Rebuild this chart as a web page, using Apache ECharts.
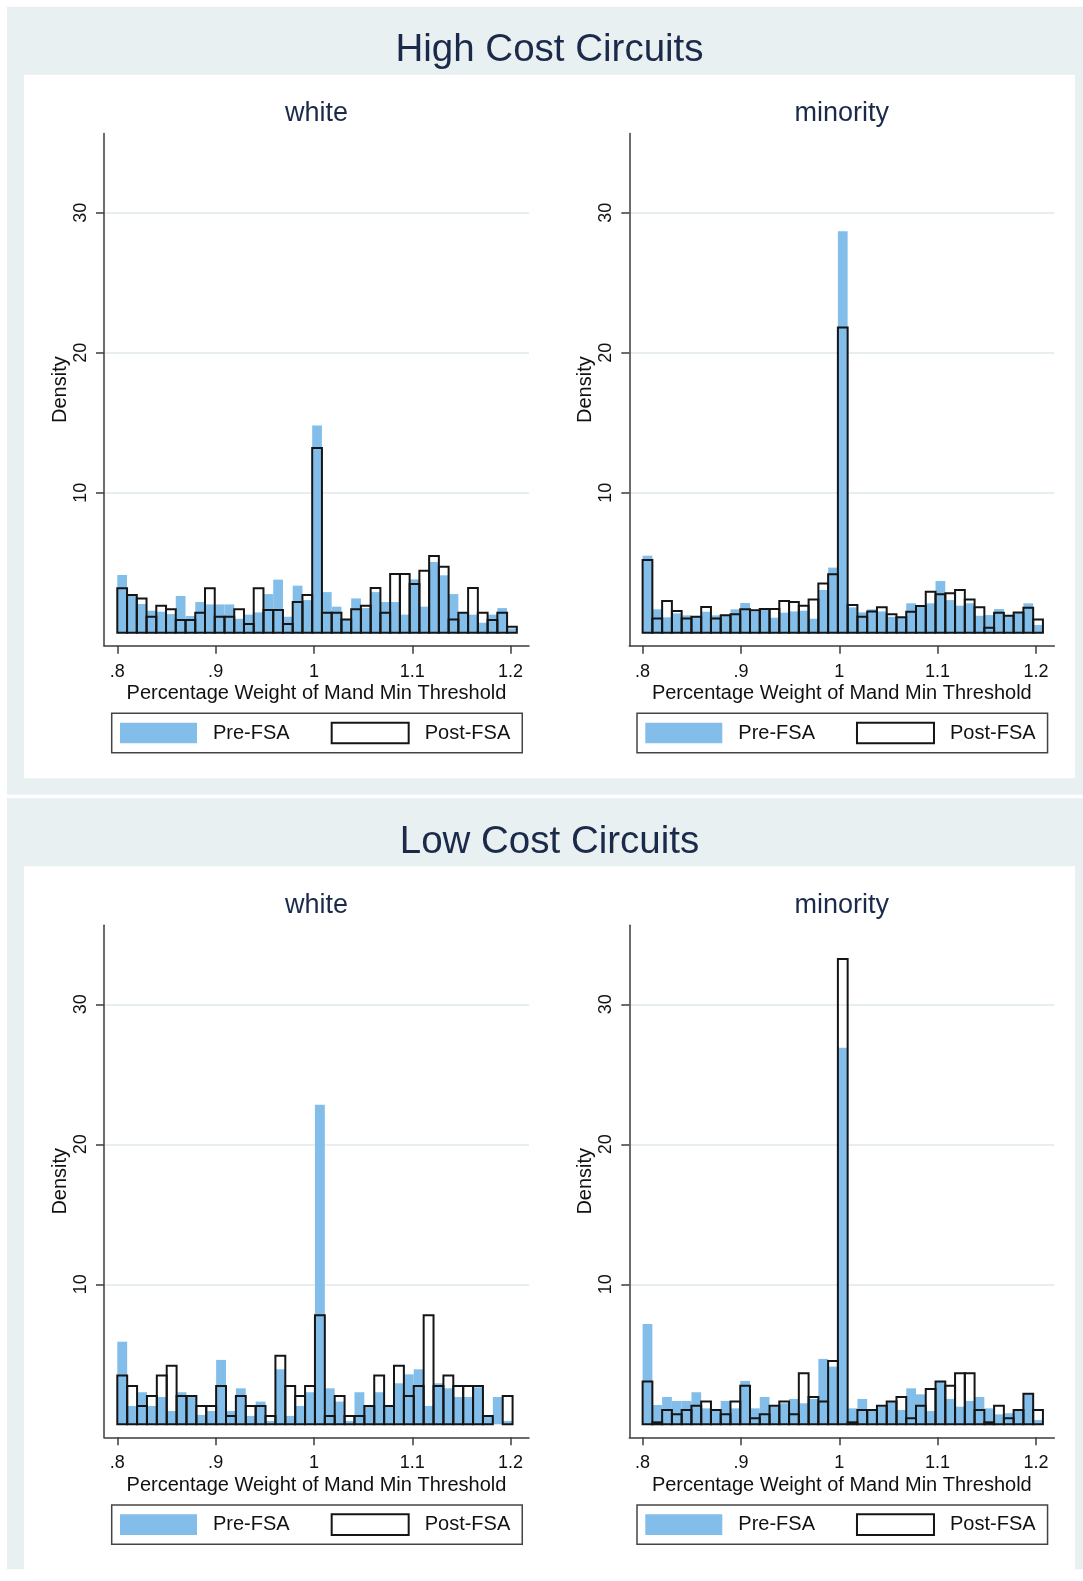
<!DOCTYPE html>
<html>
<head>
<meta charset="utf-8">
<script src="https://cdn.jsdelivr.net/npm/echarts@6/dist/echarts.min.js"></script>
<style>html,body{margin:0;padding:0;background:#fff}#c{width:1083px;height:1581px}</style>
</head>
<body>
<div id="c"></div>
<script>
// ---------------- DATA ----------------
const panelTitles = ['High Cost Circuits', 'Low Cost Circuits'];
const groupTitles = ['white', 'minority'];
const xAxisTitle = 'Percentage Weight of Mand Min Threshold';
const yAxisTitle = 'Density';
const seriesNames = ['Pre-FSA', 'Post-FSA'];
const xTickValues = [0.8, 0.9, 1.0, 1.1, 1.2];
const yTickValues = [10, 20, 30];

// histogram bins: first bin start and bin width per panel
const binStartHighWhite = 0.8, binWidthHighWhite = 0.00991;
const binStartHighMinority = 0.8, binWidthHighMinority = 0.00993;
const binStartLowWhite = 0.8, binWidthLowWhite = 0.01005;
const binStartLowMinority = 0.8, binWidthLowMinority = 0.00993;

const preHighWhite = [4.12,2.65,2.05,1.57,1.5,1.33,2.62,1.19,2.19,2.02,2.02,2.02,1.0,1.29,1.45,2.76,3.79,1.14,3.36,2.33,
  14.8,2.90,1.86,0.93,2.45,1.76,2.90,2.19,2.19,1.29,3.81,1.86,5.05,4.10,2.76,1.40,1.29,0.71,1.29,1.76,0.31];
const postHighWhite = [3.17,2.69,2.45,1.14,1.93,1.67,0.9,0.9,1.43,3.17,1.14,1.14,1.67,0.62,3.17,1.62,1.62,0.62,2.19,2.69,
  13.2,1.43,1.43,0.95,1.67,1.93,3.19,1.43,4.19,4.19,3.48,4.43,5.48,4.71,0.95,1.43,3.19,1.43,0.90,1.43,0.43];

const preHighMinority = [5.5,1.67,1.10,1.38,1.24,1.19,1.5,1.24,1.2,1.67,2.12,1.52,1.65,1.07,1.43,1.52,1.57,1.0,3.05,4.65,
  28.67,1.81,1.45,1.67,1.52,1.14,1.08,2.10,1.88,2.10,3.69,2.33,1.93,2.10,1.21,1.26,1.69,1.19,1.43,2.10,0.55];
const postHighMinority = [5.19,1.02,2.26,1.55,1.02,1.14,1.83,1.02,1.24,1.31,1.67,1.6,1.69,1.69,2.26,2.19,1.93,2.38,3.52,4.17,
  21.8,1.98,1.14,1.52,1.81,1.31,1.10,1.5,1.90,2.93,2.74,2.81,3.05,2.38,1.81,0.36,1.43,1.21,1.45,1.79,0.95];

const preLowWhite = [5.9,1.31,2.29,1.31,1.95,0.95,2.29,2.0,0.67,0.95,4.6,0.95,2.57,0.6,1.62,0.24,3.93,0.6,1.31,2.29,
  22.83,2.57,1.62,0.24,2.29,1.29,2.29,1.29,2.93,3.57,3.93,1.31,2.93,2.57,1.95,1.95,2.64,0.58,1.95,0.24];
const postLowWhite = [3.48,2.74,1.31,2.02,3.48,4.19,2.02,2.02,1.31,1.31,2.74,0.6,2.02,1.31,1.31,0.6,4.9,2.74,2.02,2.74,
  7.79,0.6,2.02,0.6,0.6,1.31,3.48,1.31,4.19,2.02,2.74,7.79,2.74,3.48,2.74,2.74,2.74,0.6,0,2.02];

const preLowMinority = [7.16,1.38,1.95,1.67,1.67,2.29,1.14,1.0,1.67,1.14,3.10,1.14,1.95,1.26,1.5,1.81,1.5,1.81,4.67,4.12,
  26.9,1.14,1.81,1.0,1.26,1.6,1.02,2.57,2.14,0.95,3.02,1.81,1.26,1.67,1.95,1.14,0.71,0.79,1.0,2.17,0.31];
const postLowMinority = [3.05,0.14,1.02,0.71,1.02,1.33,1.62,1.02,0.71,1.62,2.76,0.43,0.71,1.33,1.62,0.71,3.64,1.95,1.62,4.52,
  33.24,0.14,1.02,1.02,1.33,1.62,1.95,0.43,1.33,2.52,3.05,2.76,3.64,3.64,1.02,0.14,1.33,0.43,1.02,2.19,1.02];

// ---------------- LAYOUT / STYLE ----------------
const FONT = '"Liberation Sans", Arial, Helvetica, sans-serif';
const PRE_COLOR = '#82bee9';
const POST_STROKE = '#151515';
const AXIS_COLOR = '#3c3c3c';
const GRID_COLOR = '#e6eef0';
const BG_COLOR = '#e8f0f2';
const TITLE_COLOR = '#1b2a4a';
const TEXT_COLOR = '#111';

const PANEL_DY = 791.6;
const COL_DX = 525.3;
const GRID_W = 425, GRID_H = 512.1;
const X_MIN = 0.786474, X_MAX = 1.218692;
const Y_MIN = -0.9286, Y_MAX = 35.65;

const panels = [
  {pre: preHighWhite, post: postHighWhite, start: binStartHighWhite, width: binWidthHighWhite, row: 0, col: 0},
  {pre: preHighMinority, post: postHighMinority, start: binStartHighMinority, width: binWidthHighMinority, row: 0, col: 1},
  {pre: preLowWhite, post: postLowWhite, start: binStartLowWhite, width: binWidthLowWhite, row: 1, col: 0},
  {pre: preLowMinority, post: postLowMinority, start: binStartLowMinority, width: binWidthLowMinority, row: 1, col: 1}
];

function binData(values, start, width) {
  return values.map((v, i) => [start + i * width, start + (i + 1) * width, v]);
}

function makeRender(isPost) {
  return function (params, api) {
    const v = api.value(2);
    if (!(v > 0)) return null;
    const a = api.coord([api.value(0), v]);
    const b = api.coord([api.value(1), 0]);
    return {
      type: 'rect',
      shape: {x: a[0], y: a[1], width: b[0] - a[0], height: b[1] - a[1]},
      style: isPost
        ? {fill: 'none', stroke: POST_STROKE, lineWidth: 2}
        : {fill: PRE_COLOR, stroke: null}
    };
  };
}

const grids = [], xAxes = [], yAxes = [], series = [], legends = [], graphics = [];

// backgrounds and titles
const outerHeights = [788, 771];
for (let r = 0; r < 2; r++) {
  const dy = r * PANEL_DY;
  graphics.push({type: 'rect', z: -10, shape: {x: 7, y: 6.7 + dy, width: 1085, height: outerHeights[r]}, style: {fill: BG_COLOR}});
  graphics.push({type: 'rect', z: -9, shape: {x: 24, y: 74.7 + dy, width: 1051, height: 703.6}, style: {fill: '#ffffff'}});
  graphics.push({type: 'text', z: 10, x: 549.5, y: 50.5 + dy,
    style: {text: panelTitles[r], fontSize: 38.5, fontFamily: FONT, fill: TITLE_COLOR, align: 'center', verticalAlign: 'middle'}});
  for (let c = 0; c < 2; c++) {
    graphics.push({type: 'text', z: 10, x: 316.5 + c * COL_DX, y: 113.5 + dy,
      style: {text: groupTitles[c], fontSize: 27, fontFamily: FONT, fill: TITLE_COLOR, align: 'center', verticalAlign: 'middle'}});
  }
}

panels.forEach((p, i) => {
  const left = 104 + p.col * COL_DX;
  const top = 133.6 + p.row * PANEL_DY;
  grids.push({left: left, top: top, width: GRID_W, height: GRID_H});
  xAxes.push({
    type: 'value', gridIndex: i, min: X_MIN, max: X_MAX,
    axisLine: {show: true, onZero: false, lineStyle: {color: AXIS_COLOR, width: 1.5}},
    axisTick: {show: true, customValues: xTickValues, length: 8, lineStyle: {color: AXIS_COLOR, width: 1.5}},
    axisLabel: {customValues: xTickValues, margin: 17, fontSize: 18, fontFamily: FONT, color: TEXT_COLOR,
      formatter: v => (v < 1 ? String(+v.toFixed(2)).replace(/^0/, '') : String(+v.toFixed(2)))},
    splitLine: {show: false},
    name: xAxisTitle, nameLocation: 'middle', nameGap: 38,
    nameTextStyle: {fontSize: 20, fontFamily: FONT, color: TEXT_COLOR}
  });
  yAxes.push({
    type: 'value', gridIndex: i, min: Y_MIN, max: Y_MAX,
    axisLine: {show: true, onZero: false, lineStyle: {color: AXIS_COLOR, width: 1.5}},
    axisTick: {show: true, customValues: yTickValues, length: 8, lineStyle: {color: AXIS_COLOR, width: 1.5}},
    axisLabel: {customValues: yTickValues, rotate: 90, margin: 14, fontSize: 18, fontFamily: FONT, color: TEXT_COLOR},
    splitLine: {show: true, lineStyle: {color: GRID_COLOR, width: 2}},
    name: yAxisTitle, nameLocation: 'middle', nameGap: 34,
    nameTextStyle: {fontSize: 20, fontFamily: FONT, color: TEXT_COLOR}
  });
  series.push({
    type: 'custom', name: seriesNames[0], xAxisIndex: i, yAxisIndex: i, z: 2,
    data: binData(p.pre, p.start, p.width), encode: {x: [0, 1], y: 2},
    renderItem: makeRender(false), itemStyle: {color: PRE_COLOR}, silent: true
  });
  series.push({
    type: 'custom', name: seriesNames[1], xAxisIndex: i, yAxisIndex: i, z: 3,
    data: binData(p.post, p.start, p.width), encode: {x: [0, 1], y: 2},
    renderItem: makeRender(true), itemStyle: {color: '#fff', borderColor: POST_STROKE, borderWidth: 2}, silent: true
  });
  legends.push({
    left: 111.7 + p.col * COL_DX, top: 713.3 + p.row * PANEL_DY,
    orient: 'horizontal', itemWidth: 77, itemHeight: 20.6, itemGap: 41,
    padding: [8.4, 12, 8.4, 8.3], borderColor: '#444', borderWidth: 1.5, backgroundColor: '#fff',
    selectedMode: false,
    textStyle: {fontSize: 20, fontFamily: FONT, color: TEXT_COLOR, padding: [0, 0, 0, 11]},
    data: [
      {name: seriesNames[0], icon: 'rect', itemStyle: {color: PRE_COLOR, borderWidth: 0}},
      {name: seriesNames[1], icon: 'rect', itemStyle: {color: '#fff', borderColor: POST_STROKE, borderWidth: 2}}
    ]
  });
});

const chart = echarts.init(document.getElementById('c'), null, {renderer: 'canvas', width: 1083, height: 1581});
chart.setOption({
  backgroundColor: '#ffffff',
  animation: false,
  textStyle: {fontFamily: FONT},
  grid: grids, xAxis: xAxes, yAxis: yAxes, series: series, legend: legends,
  graphic: graphics
});
</script>
</body>
</html>
